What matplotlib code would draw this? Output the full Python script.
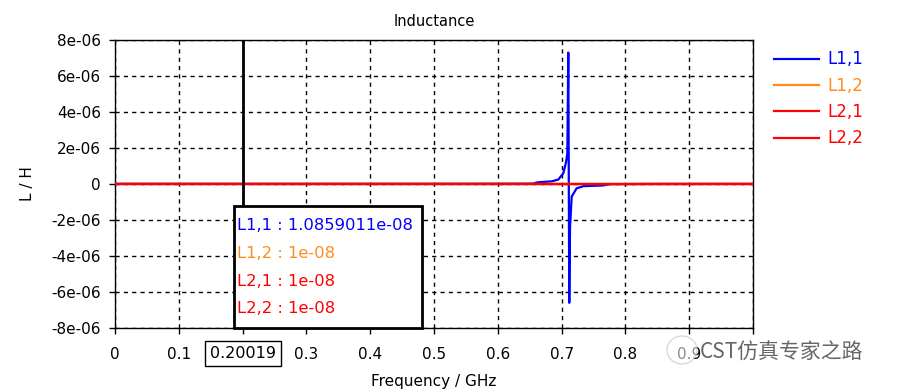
import matplotlib
matplotlib.use("Agg")
import matplotlib.pyplot as plt
from matplotlib.patches import Rectangle, Ellipse
import numpy as np

# L1,1 trace (GHz, H): flat ~1e-8, resonance near 0.711 GHz
freq_l11 = [0.0, 0.3, 0.5, 0.6, 0.655, 0.662, 0.685, 0.695, 0.7027, 0.7069, 0.709,
            0.7105, 0.712, 0.7132, 0.7158, 0.7236, 0.734, 0.765, 0.775, 0.85, 1.0]
l11 = [1.0859e-8, 1.1e-8, 1.3e-8, 1.6e-8, 2e-8, 9e-8, 1.5e-7, 2.5e-7, 6e-7, 1.2e-6, 1.7e-6,
       7.3e-6, -6.6e-6, -2.4e-6, -0.7e-6, -0.24e-6, -0.12e-6, -0.08e-6, -1e-8, 0.5e-8, 0.8e-8]

freq_flat = [0.0, 1.0]
l12 = [1e-8, 1e-8]
l21 = [1e-8, 1e-8]
l22 = [1e-8, 1e-8]

series_names = ["L1,1", "L1,2", "L2,1", "L2,2"]
series_colors = ["#0000ff", "#ff8c1a", "#ff0000", "#ff0000"]

cursor_x = 0.20019
cursor_readings = ["1.0859011e-08", "1e-08", "1e-08", "1e-08"]
text_colors = ["#0000ff", "#ff8c1a", "#ff0000", "#ff0000"]

xticks = np.round(np.arange(0, 1.01, 0.1), 1)
yticks = np.arange(-8e-6, 8.1e-6, 2e-6)

plt.rcParams["font.family"] = ["DejaVu Sans"]
fig = plt.figure(figsize=(9.0, 3.91), dpi=100)
ax = fig.add_axes([115 / 900, 1 - 328 / 391, 638 / 900, 288 / 391])

lw = 1.6
ax.plot(freq_l11, l11, color=series_colors[0], lw=lw, label=series_names[0], zorder=3)
ax.plot(freq_flat, l12, color=series_colors[1], lw=lw, label=series_names[1], zorder=3)
ax.plot(freq_flat, l21, color=series_colors[2], lw=lw, label=series_names[2], zorder=3)
ax.plot(freq_flat, l22, color=series_colors[3], lw=lw, label=series_names[3], zorder=4)

ax.set_xlim(0, 1)
ax.set_ylim(-8e-6, 8e-6)
ax.set_xticks(xticks)
ax.set_xticklabels(["" if (abs(t - 0.2) < 1e-9 or t >= 1.0) else f"{t:g}" for t in xticks])
ax.set_yticks(yticks)
ax.set_yticklabels(["0" if abs(t) < 1e-12 else f"{t:.0e}" for t in yticks])
ax.tick_params(direction="out", length=4, width=1, labelsize=11, color="black")
ax.tick_params(axis="x", pad=10)
ax.tick_params(axis="y", pad=6)
ax.grid(True, color="black", linestyle=(0, (3, 3)), linewidth=1)
for s in ax.spines.values():
    s.set_linewidth(1)
    s.set_color("black")

ax.set_title("Inductance", fontsize=10.5, pad=10)
ax.set_xlabel("Frequency / GHz", fontsize=11, labelpad=8)
ax.set_ylabel("L / H", fontsize=11, labelpad=12)

# cursor line
ax.axvline(cursor_x, color="black", lw=2, zorder=5)

# cursor readout box
ax.add_patch(Rectangle((0.1865, 0.0), 0.2945, 0.4236, transform=ax.transAxes,
                       facecolor="white", edgecolor="black", lw=2, zorder=6,
                       clip_on=False))
line_y = [0.355, 0.259, 0.162, 0.067]
for name, val, c, y in zip(series_names, cursor_readings, text_colors, line_y):
    ax.text(0.192, y, f"{name} : {val}", transform=ax.transAxes, color=c,
            fontsize=11.8, va="center", ha="left", zorder=7)

# boxed cursor value on x axis
ax.annotate(f"{cursor_x:.5f}", xy=(cursor_x, 0), xycoords=("data", "axes fraction"),
            xytext=(0, -18.5), textcoords="offset points", ha="center", va="center",
            fontsize=11.5,
            bbox=dict(boxstyle="square,pad=0.32", facecolor="white", edgecolor="black", lw=1))

leg = ax.legend(loc="upper left", bbox_to_anchor=(1.012, 1.01), frameon=False,
                handlelength=2.7, handletextpad=0.5, labelspacing=0.5, fontsize=12,
                borderaxespad=0.4)
for t, c in zip(leg.get_texts(), series_colors):
    t.set_color(c)

# watermark
fig.patches.append(Ellipse((682 / 900, 1 - 350 / 391), 30 / 900, 28 / 391,
                           transform=fig.transFigure, facecolor="white",
                           edgecolor="#bbbbbb", lw=1, alpha=0.55))
fig.text(700 / 900, 1 - 353 / 391, "CST仿真专家之路", fontsize=15, color="#666666",
         va="center", ha="left", family=["Noto Sans CJK SC", "DejaVu Sans"])

fig.savefig("out.png", dpi=100)
